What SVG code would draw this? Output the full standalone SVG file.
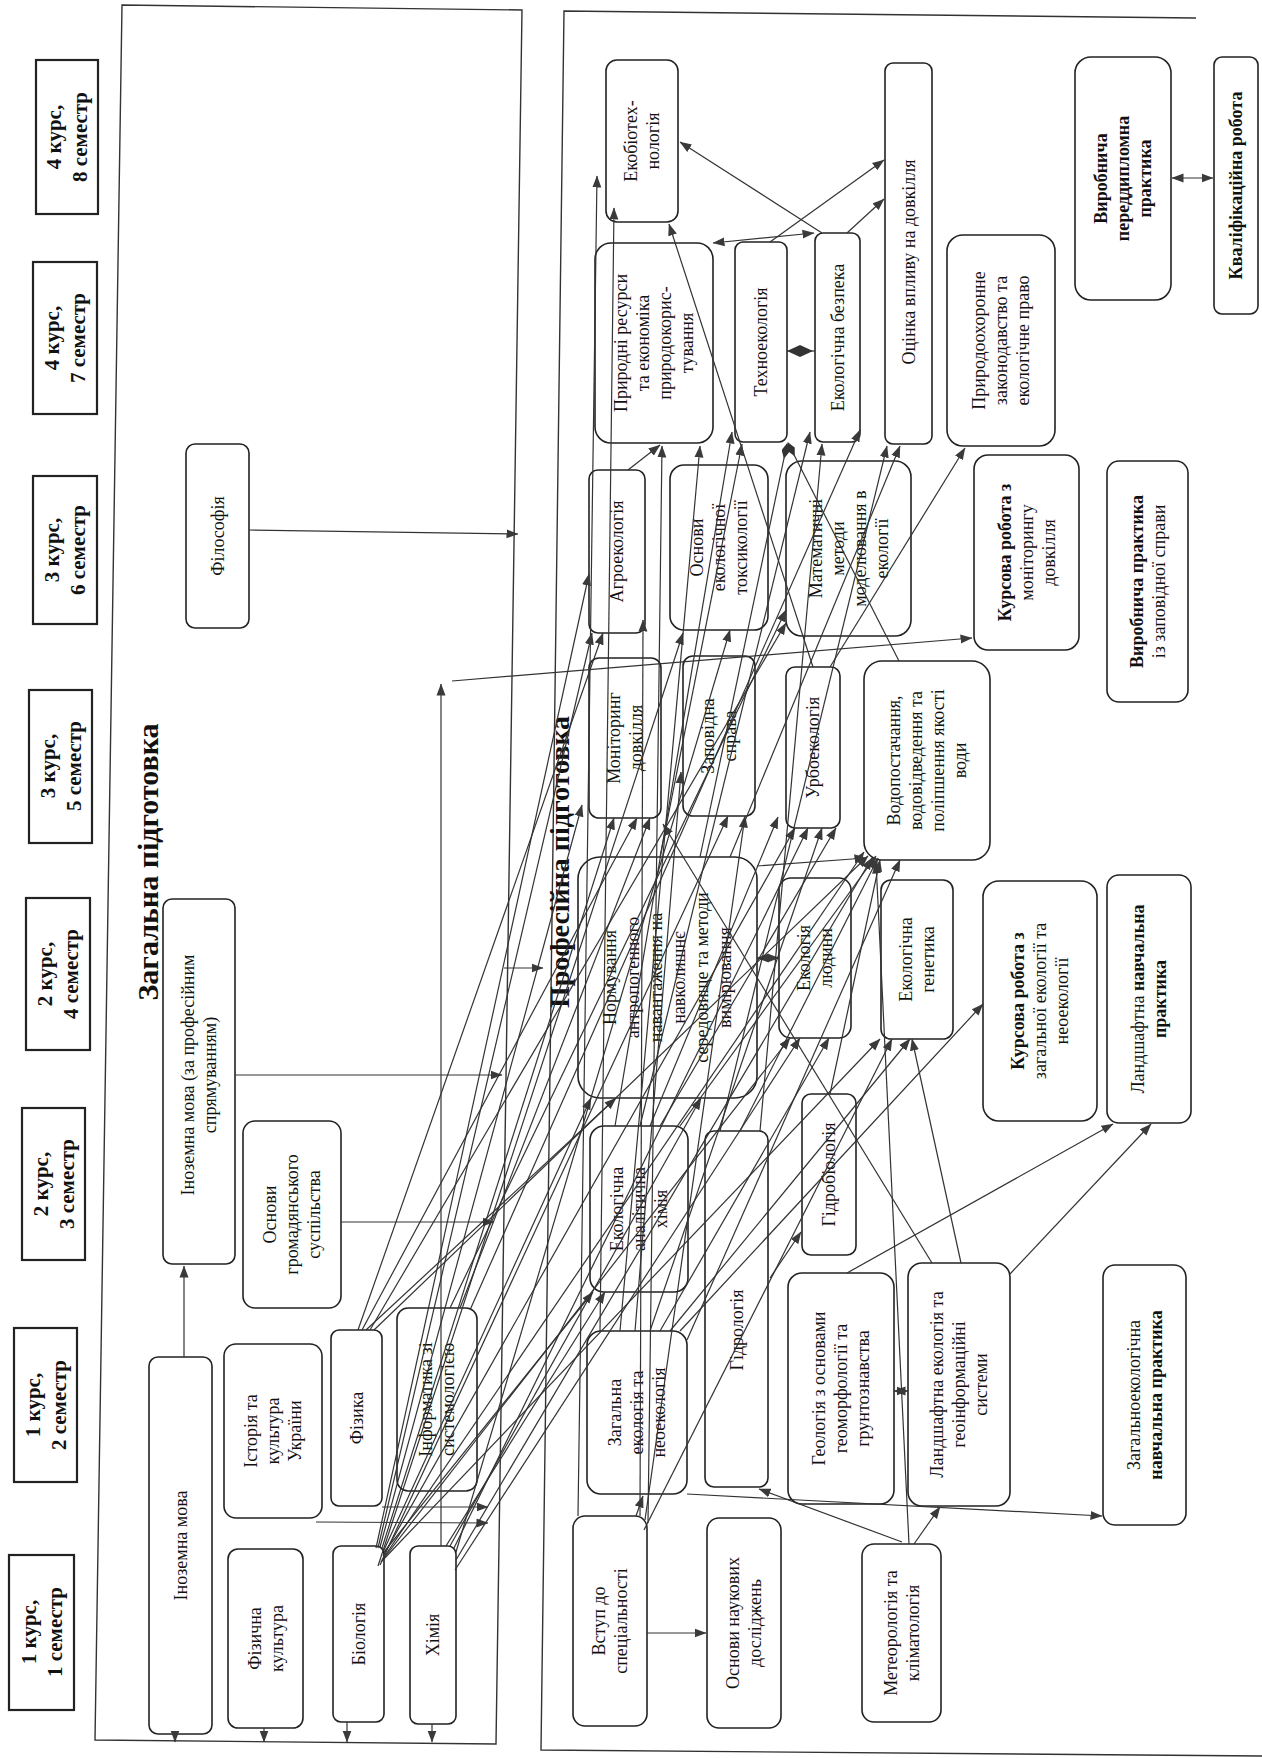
<svg xmlns="http://www.w3.org/2000/svg" width="1262" height="1758" viewBox="0 0 1262 1758">
<defs>
<marker id="a" viewBox="0 0 12 10" refX="11.5" refY="5" markerWidth="12" markerHeight="10" markerUnits="userSpaceOnUse" orient="auto-start-reverse"><path d="M0,0.5 L12,5 L0,9.5 z" fill="#3a3a3a"/></marker>
<marker id="d" viewBox="0 0 16 8" refX="15" refY="4" markerWidth="16" markerHeight="8" markerUnits="userSpaceOnUse" orient="auto"><path d="M0,4 L8,0 L16,4 L8,8 z" fill="#333"/></marker>
<style>
.s{fill:#fff;stroke:#222;stroke-width:2.2}
.r{fill:#fff;stroke:#222;stroke-width:1.6}
.fr{fill:none;stroke:#333;stroke-width:1.4}
.t{font-family:"Liberation Serif","Times New Roman",serif;font-size:18px;fill:#111;text-anchor:middle}
.b{font-weight:bold}
.st{font-family:"Liberation Serif","Times New Roman",serif;font-size:21px;font-weight:bold;fill:#111;text-anchor:middle}
.ti{font-family:"Liberation Serif","Times New Roman",serif;font-weight:bold;fill:#111;text-anchor:middle}
.c line{stroke:#333;stroke-width:1.2;marker-end:url(#a)}
.c line.bi{marker-start:url(#a)}
.c line.dm{marker-end:url(#d)}
</style>
</defs>
<rect width="1262" height="1758" fill="#fff"/>

<g id="frames">
<polygon class="fr" points="122,5 522,10 496,1744 95,1740"/>
<polyline class="fr" points="1196,18 564,11 541,1750 1262,1756"/>
<text class="ti" font-size="30" transform="translate(148,862) rotate(-90)" x="0" y="10">Загальна підготовка</text>
<text class="ti" font-size="28" transform="translate(559,862) rotate(-90)" x="0" y="10">Професійна підготовка</text>
</g>

<g id="semesters">
<g id="sem8"><rect class="s" x="36" y="60" width="62" height="154"/><text class="st" transform="translate(67,137) rotate(-90)"><tspan x="0" y="-6">4 курс,</tspan><tspan x="0" y="20">8 семестр</tspan></text></g>
<g id="sem7"><rect class="s" x="33" y="262" width="64" height="152"/><text class="st" transform="translate(65,338) rotate(-90)"><tspan x="0" y="-6">4 курс,</tspan><tspan x="0" y="20">7 семестр</tspan></text></g>
<g id="sem6"><rect class="s" x="33" y="476" width="64" height="148"/><text class="st" transform="translate(65,550) rotate(-90)"><tspan x="0" y="-6">3 курс,</tspan><tspan x="0" y="20">6 семестр</tspan></text></g>
<g id="sem5"><rect class="s" x="29" y="690" width="63" height="153"/><text class="st" transform="translate(60.5,766) rotate(-90)"><tspan x="0" y="-6">3 курс,</tspan><tspan x="0" y="20">5 семестр</tspan></text></g>
<g id="sem4"><rect class="s" x="26" y="898" width="64" height="152"/><text class="st" transform="translate(58,974) rotate(-90)"><tspan x="0" y="-6">2 курс,</tspan><tspan x="0" y="20">4 семестр</tspan></text></g>
<g id="sem3"><rect class="s" x="22" y="1108" width="63" height="152"/><text class="st" transform="translate(53.5,1184) rotate(-90)"><tspan x="0" y="-6">2 курс,</tspan><tspan x="0" y="20">3 семестр</tspan></text></g>
<g id="sem2"><rect class="s" x="14" y="1328" width="63" height="154"/><text class="st" transform="translate(45.5,1405) rotate(-90)"><tspan x="0" y="-6">1 курс,</tspan><tspan x="0" y="20">2 семестр</tspan></text></g>
<g id="sem1"><rect class="s" x="9" y="1555" width="65" height="155"/><text class="st" transform="translate(41.5,1632) rotate(-90)"><tspan x="0" y="-6">1 курс,</tspan><tspan x="0" y="20">1 семестр</tspan></text></g>
</g>

<g id="n-filosofiya"><rect class="r" x="186" y="444" width="63" height="184" rx="9"/><text class="t" transform="translate(217.5,536) rotate(-90)"><tspan x="0" y="6">Філософія</tspan></text></g>
<g id="n-inozemna-prof"><rect class="r" x="163" y="899" width="72" height="365" rx="9"/><text class="t" transform="translate(199,1075) rotate(-90)"><tspan x="0" y="-5">Іноземна мова (за професійним</tspan><tspan x="0" y="17">спрямуванням)</tspan></text></g>
<g id="n-osnovy-hrom"><rect class="r" x="243" y="1121" width="98" height="187" rx="12"/><text class="t" transform="translate(292,1214.5) rotate(-90)"><tspan x="0" y="-16">Основи</tspan><tspan x="0" y="6">громадянського</tspan><tspan x="0" y="28">суспільства</tspan></text></g>
<g id="n-inozemna"><rect class="r" x="149" y="1357" width="63" height="377" rx="9"/><text class="t" transform="translate(180.5,1545.5) rotate(-90)"><tspan x="0" y="6">Іноземна мова</tspan></text></g>
<g id="n-istoriya"><rect class="r" x="224" y="1344" width="98" height="174" rx="12"/><text class="t" transform="translate(273,1431) rotate(-90)"><tspan x="0" y="-16">Історія та</tspan><tspan x="0" y="6">культура</tspan><tspan x="0" y="28">України</tspan></text></g>
<g id="n-fizyka"><rect class="r" x="331" y="1330" width="51" height="176" rx="8"/><text class="t" transform="translate(356.5,1418) rotate(-90)"><tspan x="0" y="6">Фізика</tspan></text></g>
<g id="n-informatyka"><rect class="r" x="397" y="1308" width="80" height="183" rx="11"/><text class="t" transform="translate(437,1399.5) rotate(-90)"><tspan x="0" y="-5">Інформатика зі</tspan><tspan x="0" y="17">системологією</tspan></text></g>
<g id="n-fiz-kult"><rect class="r" x="228" y="1549" width="75" height="179" rx="10"/><text class="t" transform="translate(265.5,1638.5) rotate(-90)"><tspan x="0" y="-5">Фізична</tspan><tspan x="0" y="17">культура</tspan></text></g>
<g id="n-biolohiya"><rect class="r" x="333" y="1546" width="51" height="176" rx="8"/><text class="t" transform="translate(358.5,1634) rotate(-90)"><tspan x="0" y="6">Біологія</tspan></text></g>
<g id="n-khimiya"><rect class="r" x="410" y="1546" width="46" height="178" rx="8"/><text class="t" transform="translate(433,1635) rotate(-90)"><tspan x="0" y="6">Хімія</tspan></text></g>

<g id="n-ekobio"><rect class="r" x="606" y="60" width="72" height="162" rx="11"/><text class="t" transform="translate(642,141) rotate(-90)"><tspan x="0" y="-5">Екобіотех-</tspan><tspan x="0" y="17">нологія</tspan></text></g>
<g id="n-pryrodni"><rect class="r" x="595" y="243" width="118" height="200" rx="16"/><text class="t" transform="translate(654,343) rotate(-90)"><tspan x="0" y="-27">Природні ресурси</tspan><tspan x="0" y="-5">та економіка</tspan><tspan x="0" y="17">природокорис-</tspan><tspan x="0" y="39">тування</tspan></text></g>
<g id="n-tekhno"><rect class="r" x="735" y="242" width="52" height="200" rx="8"/><text class="t" transform="translate(761,342) rotate(-90)"><tspan x="0" y="6">Техноекологія</tspan></text></g>
<g id="n-bezpeka"><rect class="r" x="815" y="233" width="45" height="209" rx="8"/><text class="t" transform="translate(837.5,337.5) rotate(-90)"><tspan x="0" y="6">Екологічна безпека</tspan></text></g>
<g id="n-otsinka"><rect class="r" x="885" y="63" width="47" height="381" rx="8"/><text class="t" transform="translate(908.5,262) rotate(-90)"><tspan x="0" y="6">Оцінка впливу на довкілля</tspan></text></g>
<g id="n-pryrodookh"><rect class="r" x="947" y="235" width="108" height="211" rx="16"/><text class="t" transform="translate(1001,340.5) rotate(-90)"><tspan x="0" y="-16">Природоохоронне</tspan><tspan x="0" y="6">законодавство та</tspan><tspan x="0" y="28">екологічне право</tspan></text></g>
<g id="n-peredd"><rect class="r" x="1075" y="57" width="96" height="243" rx="16"/><text class="t b" transform="translate(1123,178.5) rotate(-90)"><tspan x="0" y="-16">Виробнича</tspan><tspan x="0" y="6">переддипломна</tspan><tspan x="0" y="28">практика</tspan></text></g>
<g id="n-kvalif"><rect class="r" x="1214" y="57" width="44" height="257" rx="8"/><text class="t b" transform="translate(1236,185.5) rotate(-90)"><tspan x="0" y="6">Кваліфікаційна робота</tspan></text></g>
<g id="n-ahro"><rect class="r" x="589" y="470" width="56" height="163" rx="9"/><text class="t" transform="translate(617,551.5) rotate(-90)"><tspan x="0" y="6">Агроекологія</tspan></text></g>
<g id="n-toksyk"><rect class="r" x="670" y="465" width="98" height="165" rx="14"/><text class="t" transform="translate(719,547.5) rotate(-90)"><tspan x="0" y="-16">Основи</tspan><tspan x="0" y="6">екологічної</tspan><tspan x="0" y="28">токсикології</tspan></text></g>
<g id="n-matem"><rect class="r" x="786" y="461" width="125" height="175" rx="16"/><text class="t" transform="translate(848.5,548.5) rotate(-90)"><tspan x="0" y="-27">Математичні</tspan><tspan x="0" y="-5">методи</tspan><tspan x="0" y="17">моделювання в</tspan><tspan x="0" y="39">екології</tspan></text></g>
<g id="n-kurs-monit"><rect class="r" x="974" y="455" width="105" height="195" rx="14"/><text class="t" transform="translate(1026.5,552.5) rotate(-90)"><tspan x="0" y="-16" class="b">Курсова робота з</tspan><tspan x="0" y="6">моніторингу</tspan><tspan x="0" y="28">довкілля</tspan></text></g>
<g id="n-vyr-zapov"><rect class="r" x="1107" y="461" width="81" height="241" rx="12"/><text class="t" transform="translate(1147.5,581.5) rotate(-90)"><tspan x="0" y="-5" class="b">Виробнича практика</tspan><tspan x="0" y="17">із заповідної справи</tspan></text></g>
<g id="n-monit"><rect class="r" x="589" y="658" width="72" height="160" rx="10"/><text class="t" transform="translate(625,738) rotate(-90)"><tspan x="0" y="-5">Моніторинг</tspan><tspan x="0" y="17">довкілля</tspan></text></g>
<g id="n-zapov"><rect class="r" x="683" y="656" width="72" height="160" rx="10"/><text class="t" transform="translate(719,736) rotate(-90)"><tspan x="0" y="-5">Заповідна</tspan><tspan x="0" y="17">справа</tspan></text></g>
<g id="n-urbo"><rect class="r" x="786" y="667" width="54" height="161" rx="9"/><text class="t" transform="translate(813,747.5) rotate(-90)"><tspan x="0" y="6">Урбоекологія</tspan></text></g>
<g id="n-vodo"><rect class="r" x="864" y="661" width="126" height="199" rx="18"/><text class="t" transform="translate(927,760.5) rotate(-90)"><tspan x="0" y="-27">Водопостачання,</tspan><tspan x="0" y="-5">водовідведення та</tspan><tspan x="0" y="17">поліпшення якості</tspan><tspan x="0" y="39">води</tspan></text></g>
<g id="n-normuv"><rect class="r" x="578" y="857" width="179" height="241" rx="22"/><text class="t" transform="translate(667.5,977.5) rotate(-90)"><tspan x="0" y="-51.5">Нормування</tspan><tspan x="0" y="-28.5">антропогенного</tspan><tspan x="0" y="-5.5">навантаження на</tspan><tspan x="0" y="17.5">навколишнє</tspan><tspan x="0" y="40.5">середовище та методи</tspan><tspan x="0" y="63.5">вимірювання</tspan></text></g>
<g id="n-ek-lyud"><rect class="r" x="779" y="878" width="72" height="160" rx="12"/><text class="t" transform="translate(815,958) rotate(-90)"><tspan x="0" y="-5">Екологія</tspan><tspan x="0" y="17">людини</tspan></text></g>
<g id="n-ek-gen"><rect class="r" x="881" y="880" width="72" height="159" rx="10"/><text class="t" transform="translate(917,959.5) rotate(-90)"><tspan x="0" y="-5">Екологічна</tspan><tspan x="0" y="17">генетика</tspan></text></g>
<g id="n-kurs-zah"><rect class="r" x="983" y="881" width="114" height="240" rx="16"/><text class="t" transform="translate(1040,1001) rotate(-90)"><tspan x="0" y="-16" class="b">Курсова робота з</tspan><tspan x="0" y="6">загальної екології та</tspan><tspan x="0" y="28">неоекології</tspan></text></g>
<g id="n-landsh-navch"><rect class="r" x="1107" y="875" width="84" height="248" rx="12"/><text class="t" transform="translate(1149,999) rotate(-90)"><tspan x="0" y="-5">Ландшафтна <tspan class="b">навчальна</tspan></tspan><tspan x="0" y="17" class="b">практика</tspan></text></g>
<g id="n-ek-anal"><rect class="r" x="590" y="1126" width="98" height="166" rx="14"/><text class="t" transform="translate(639,1209) rotate(-90)"><tspan x="0" y="-16">Екологічна</tspan><tspan x="0" y="6">аналітична</tspan><tspan x="0" y="28">хімія</tspan></text></g>
<g id="n-hidrobio"><rect class="r" x="802" y="1094" width="54" height="161" rx="9"/><text class="t" transform="translate(829,1174.5) rotate(-90)"><tspan x="0" y="6">Гідробіологія</tspan></text></g>
<g id="n-hidrol"><rect class="r" x="705" y="1131" width="63" height="356" rx="9"/><text class="t" transform="translate(736.5,1330) rotate(-90)"><tspan x="0" y="6">Гідрологія</tspan></text></g>
<g id="n-zah-ek"><rect class="r" x="587" y="1331" width="100" height="163" rx="14"/><text class="t" transform="translate(637,1412.5) rotate(-90)"><tspan x="0" y="-16">Загальна</tspan><tspan x="0" y="6">екологія та</tspan><tspan x="0" y="28">неоекологія</tspan></text></g>
<g id="n-heol"><rect class="r" x="788" y="1273" width="106" height="231" rx="14"/><text class="t" transform="translate(841,1388.5) rotate(-90)"><tspan x="0" y="-16">Геологія з основами</tspan><tspan x="0" y="6">геоморфології та</tspan><tspan x="0" y="28">грунтознавства</tspan></text></g>
<g id="n-landsh-ek"><rect class="r" x="908" y="1263" width="102" height="243" rx="14"/><text class="t" transform="translate(959,1384.5) rotate(-90)"><tspan x="0" y="-16">Ландшафтна екологія та</tspan><tspan x="0" y="6">геоінформаційні</tspan><tspan x="0" y="28">системи</tspan></text></g>
<g id="n-zah-navch"><rect class="r" x="1103" y="1265" width="83" height="260" rx="12"/><text class="t" transform="translate(1144.5,1395) rotate(-90)"><tspan x="0" y="-5">Загальноекологічна</tspan><tspan x="0" y="17" class="b">навчальна практика</tspan></text></g>
<g id="n-vstup"><rect class="r" x="573" y="1516" width="74" height="210" rx="12"/><text class="t" transform="translate(610,1621) rotate(-90)"><tspan x="0" y="-5">Вступ до</tspan><tspan x="0" y="17">спеціальності</tspan></text></g>
<g id="n-osn-nauk"><rect class="r" x="707" y="1518" width="74" height="210" rx="12"/><text class="t" transform="translate(744,1623) rotate(-90)"><tspan x="0" y="-5">Основи наукових</tspan><tspan x="0" y="17">досліджень</tspan></text></g>
<g id="n-meteo"><rect class="r" x="862" y="1544" width="79" height="178" rx="12"/><text class="t" transform="translate(901.5,1633) rotate(-90)"><tspan x="0" y="-5">Метеорологія та</tspan><tspan x="0" y="17">кліматологія</tspan></text></g>

<g id="connectors" class="c">
<line x1="249" y1="530" x2="518" y2="534"/>
<line x1="235" y1="1075" x2="502" y2="1075"/>
<line x1="341" y1="1222" x2="494" y2="1222"/>
<line x1="184" y1="1357" x2="184" y2="1266"/>
<line x1="316" y1="1522" x2="488" y2="1523"/>
<line x1="382" y1="1507" x2="488" y2="1507"/>
<line x1="175" y1="1734" x2="175" y2="1742"/>
<line x1="264" y1="1728" x2="264" y2="1742"/>
<line x1="347" y1="1722" x2="347" y2="1742"/>
<line x1="432" y1="1724" x2="432" y2="1742"/>
<line x1="504" y1="968" x2="543" y2="968"/>
<line x1="441" y1="1546" x2="441" y2="684"/>
<line x1="452" y1="681" x2="972" y2="638"/>
<line x1="647" y1="1633" x2="706" y2="1633"/>
<line x1="636" y1="1516" x2="643" y2="1496"/>
<line x1="687" y1="1494" x2="1102" y2="1516"/>
<line x1="902" y1="1542" x2="759" y2="1489"/>
<line x1="914" y1="1544" x2="940" y2="1507"/>
<line x1="909" y1="1544" x2="876" y2="862"/>
<line x1="770" y1="1278" x2="801" y2="1232"/>
<line x1="847" y1="1273" x2="1113" y2="1124"/>
<line x1="1010" y1="1274" x2="1151" y2="1124"/>
<line class="bi" x1="894" y1="1391" x2="908" y2="1391"/>
<line class="bi" x1="757" y1="958" x2="779" y2="958"/>
<line x1="757" y1="866" x2="866" y2="858"/>
<line class="bi" x1="713" y1="243" x2="814" y2="233"/>
<line x1="770" y1="242" x2="884" y2="160"/>
<line x1="847" y1="233" x2="884" y2="199"/>
<line x1="822" y1="233" x2="680" y2="142"/>
<line class="bi" x1="1172" y1="178" x2="1213" y2="178"/>
<line x1="628" y1="470" x2="660" y2="445"/>
<line x1="578" y1="1516" x2="597" y2="176"/>
<line x1="600" y1="1331" x2="614" y2="208"/>
<line x1="813" y1="667" x2="669" y2="224"/>
<line x1="830" y1="667" x2="965" y2="448"/>
<line x1="376" y1="1548" x2="589" y2="574"/>
<line x1="378" y1="1548" x2="592" y2="633"/>
<line x1="380" y1="1547" x2="582" y2="805"/>
<line x1="382" y1="1548" x2="614" y2="818"/>
<line x1="384" y1="1550" x2="591" y2="1098"/>
<line x1="384" y1="1552" x2="593" y2="1292"/>
<line x1="383" y1="1556" x2="795" y2="828"/>
<line x1="382" y1="1560" x2="864" y2="852"/>
<line x1="384" y1="1558" x2="790" y2="1038"/>
<line x1="381" y1="1562" x2="880" y2="1039"/>
<line x1="380" y1="1565" x2="728" y2="816"/>
<line x1="378" y1="1566" x2="683" y2="633"/>
<line x1="358" y1="1330" x2="603" y2="633"/>
<line x1="362" y1="1330" x2="637" y2="818"/>
<line x1="366" y1="1330" x2="616" y2="1098"/>
<line x1="370" y1="1330" x2="786" y2="623"/>
<line x1="374" y1="1330" x2="868" y2="856"/>
<line x1="446" y1="1546" x2="605" y2="1292"/>
<line x1="450" y1="1546" x2="701" y2="1098"/>
<line x1="454" y1="1548" x2="808" y2="828"/>
<line x1="456" y1="1552" x2="730" y2="630"/>
<line x1="456" y1="1560" x2="872" y2="858"/>
<line x1="455" y1="1570" x2="800" y2="1038"/>
<line x1="450" y1="1308" x2="786" y2="610"/>
<line x1="460" y1="1308" x2="650" y2="818"/>
<line x1="470" y1="1310" x2="860" y2="430"/>
<line x1="640" y1="1516" x2="643" y2="620"/>
<line x1="645" y1="1520" x2="745" y2="816"/>
<line x1="648" y1="1523" x2="662" y2="446"/>
<line x1="644" y1="1530" x2="892" y2="1039"/>
<line x1="620" y1="1331" x2="700" y2="446"/>
<line x1="650" y1="1331" x2="822" y2="828"/>
<line x1="660" y1="1331" x2="829" y2="1038"/>
<line x1="670" y1="1331" x2="910" y2="1039"/>
<line x1="680" y1="1331" x2="983" y2="1004"/>
<line x1="635" y1="1331" x2="681" y2="772"/>
<line x1="687" y1="1340" x2="900" y2="860"/>
<line x1="615" y1="1126" x2="732" y2="432"/>
<line x1="640" y1="1126" x2="810" y2="432"/>
<line x1="660" y1="1126" x2="836" y2="828"/>
<line x1="680" y1="1126" x2="876" y2="856"/>
<line x1="650" y1="1126" x2="778" y2="817"/>
<line x1="720" y1="1131" x2="887" y2="446"/>
<line x1="740" y1="1131" x2="878" y2="858"/>
<line x1="760" y1="1131" x2="822" y2="444"/>
<line x1="830" y1="1094" x2="880" y2="860"/>
<line x1="932" y1="1263" x2="663" y2="824"/>
<line x1="961" y1="1263" x2="912" y2="1039"/>
<line x1="660" y1="857" x2="742" y2="444"/>
<line x1="730" y1="857" x2="900" y2="446"/>
<line class="dm" x1="700" y1="857" x2="787" y2="444"/>
<line class="dm" x1="899" y1="661" x2="788" y2="443"/>
<line x1="787" y1="351" x2="815" y2="351" style="marker-end:none"/>
<polygon points="787,351 800,345 813,351 800,357" fill="#333" stroke="none"/>
</g>
</svg>
